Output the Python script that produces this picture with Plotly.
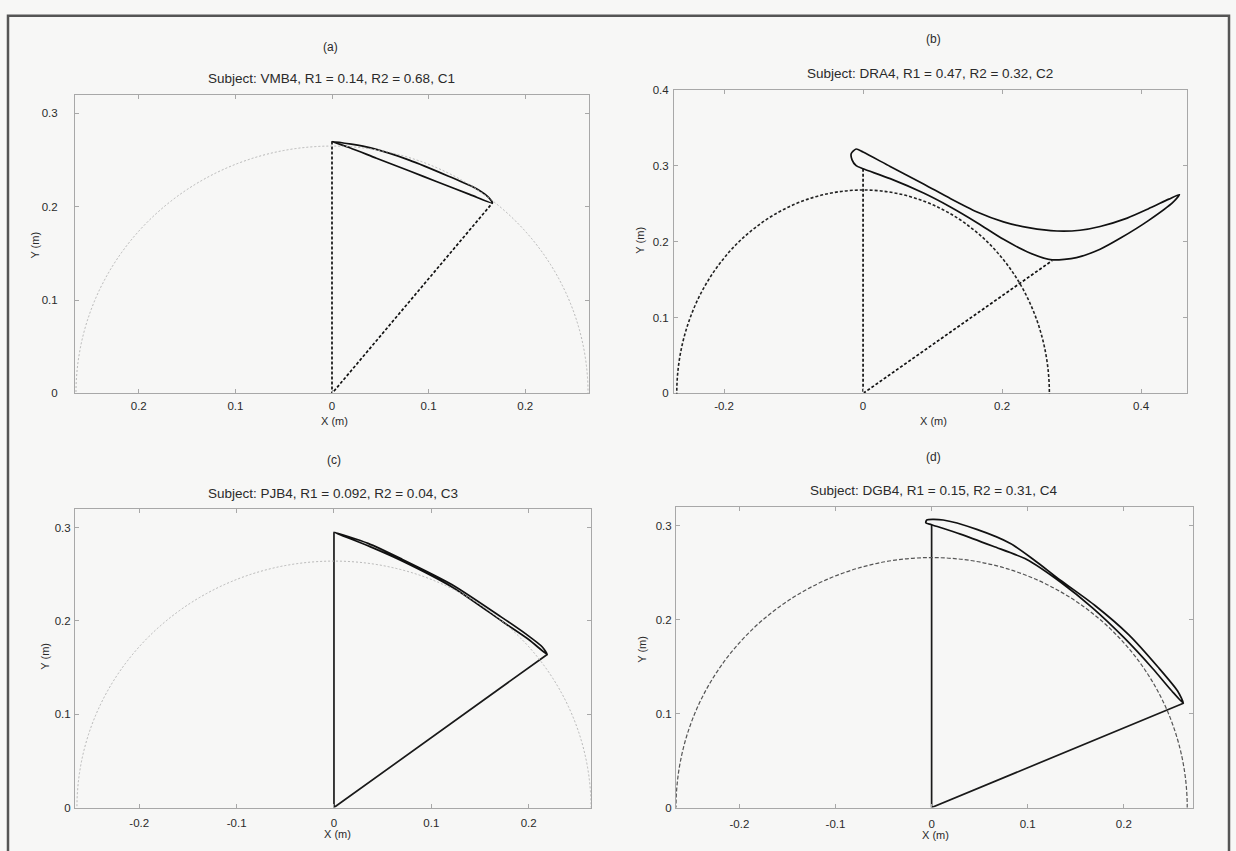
import plotly.graph_objects as go

W, H = 1236, 851

# ---- data -------------------------------------------------------------
# reach radius (m) per subject
radius = {"a": 0.265, "b": 0.268, "c": 0.264, "d": 0.266}

# arm vertices: shoulder top (on x = 0) and the far vertex of the triangle
shoulder_top = {"a": 0.270, "b": 0.296, "c": 0.295, "d": 0.301}
vertex_x = {"a": 0.166, "b": 0.272, "c": 0.219, "d": 0.262}
vertex_y = {"a": 0.204, "b": 0.175, "c": 0.164, "d": 0.111}

# trajectory loops
loop_a_x = [0.0, 0.020, 0.040, 0.080, 0.120, 0.150, 0.162, 0.166,
            0.143, 0.108, 0.081, 0.046, 0.019, 0.0]
loop_a_y = [0.270, 0.267, 0.263, 0.250, 0.233, 0.219, 0.210, 0.204,
            0.213, 0.227, 0.238, 0.252, 0.263, 0.270]

loop_b_x = [0.0, 0.039, 0.087, 0.125, 0.164, 0.202, 0.240, 0.272, 0.307,
            0.341, 0.371, 0.411, 0.446, 0.455, 0.440, 0.410, 0.380, 0.341,
            0.312, 0.279, 0.240, 0.202, 0.164, 0.125, 0.087, 0.039, 0.0,
            -0.010, -0.017, -0.016, -0.010, 0.0]
loop_b_y = [0.296, 0.283, 0.264, 0.246, 0.225, 0.203, 0.185, 0.176, 0.179,
            0.190, 0.205, 0.228, 0.252, 0.262, 0.256, 0.243, 0.231, 0.220,
            0.215, 0.214, 0.218, 0.226, 0.239, 0.257, 0.276, 0.299, 0.318,
            0.322, 0.316, 0.308, 0.300, 0.296]

loop_c_x = [0.0, 0.037, 0.071, 0.1225, 0.174, 0.200, 0.219,
            0.214, 0.197, 0.172, 0.121, 0.070, 0.035, 0.0]
loop_c_y = [0.295, 0.2795, 0.2637, 0.2355, 0.1985, 0.180, 0.164,
            0.172, 0.186, 0.204, 0.239, 0.266, 0.283, 0.295]

loop_d_x = [0.0, 0.030, 0.064, 0.099, 0.134, 0.168, 0.200, 0.230, 0.250,
            0.262, 0.256, 0.236, 0.205, 0.170, 0.134, 0.106, 0.082, 0.047,
            0.012, -0.005, -0.006, 0.0]
loop_d_y = [0.301, 0.291, 0.278, 0.264, 0.240, 0.212, 0.181, 0.148, 0.124,
            0.111, 0.124, 0.149, 0.184, 0.215, 0.242, 0.264, 0.281, 0.296,
            0.306, 0.306, 0.303, 0.301]

loops = {"a": (loop_a_x, loop_a_y), "b": (loop_b_x, loop_b_y),
         "c": (loop_c_x, loop_c_y), "d": (loop_d_x, loop_d_y)}

panel_tags = {"a": "(a)", "b": "(b)", "c": "(c)", "d": "(d)"}
titles = {
    "a": "Subject: VMB4, R1 = 0.14, R2 = 0.68, C1",
    "b": "Subject: DRA4, R1 = 0.47, R2 = 0.32, C2",
    "c": "Subject: PJB4, R1 = 0.092, R2 = 0.04, C3",
    "d": "Subject: DGB4, R1 = 0.15, R2 = 0.31, C4",
}

x_ticks = {
    "a": ([-0.2, -0.1, 0, 0.1, 0.2], ["0.2", "0.1", "0", "0.1", "0.2"]),
    "b": ([-0.2, 0, 0.2, 0.4], ["-0.2", "0", "0.2", "0.4"]),
    "c": ([-0.2, -0.1, 0, 0.1, 0.2], ["-0.2", "-0.1", "0", "0.1", "0.2"]),
    "d": ([-0.2, -0.1, 0, 0.1, 0.2], ["-0.2", "-0.1", "0", "0.1", "0.2"]),
}
y_ticks = {
    "a": ([0, 0.1, 0.2, 0.3], ["0", "0.1", "0.2", "0.3"]),
    "b": ([0, 0.1, 0.2, 0.3, 0.4], ["0", "0.1", "0.2", "0.3", "0.4"]),
    "c": ([0, 0.1, 0.2, 0.3], ["0", "0.1", "0.2", "0.3"]),
    "d": ([0, 0.1, 0.2, 0.3], ["0", "0.1", "0.2", "0.3"]),
}

# ---- layout (pixel boxes of each axes) --------------------------------
boxes = {  # left, right, top, bottom in px
    "a": (75, 589, 90, 393),
    "b": (674, 1187, 85, 393),
    "c": (75, 591, 510, 813),
    "d": (676, 1193, 508, 813),
}
x_ranges = {"a": [-0.266, 0.266], "b": [-0.272, 0.466],
            "c": [-0.266, 0.264], "d": [-0.266, 0.272]}
y_ranges = {"a": [0, 0.32], "b": [0, 0.4], "c": [0, 0.32], "d": [0, 0.32]}

# label standoffs (px) for x and y tick labels
standoff = {"a": (2, 14), "b": (2, 2), "c": (5, 1), "d": (6, 1)}

text_pos = {  # tag, title, x-label, y-label centres in px
    "a": ((330, 42), (331, 74), (334, 421), (35, 243)),
    "b": ((933, 33), (930, 68), (933, 421), (640, 238)),
    "c": ((334, 460), (333, 494), (337, 840), (45, 660)),
    "d": ((933, 457), (933, 491), (935, 841), (642, 653)),
}

styles = {
    "a": dict(tri=dict(color="#111", width=1.7, dash="3px,2px"),
              circ=dict(color="#b0b0b0", width=0.9, dash="2px,2px")),
    "b": dict(tri=dict(color="#111", width=1.7, dash="3px,2px"),
              circ=dict(color="#222", width=1.6, dash="3px,2px")),
    "c": dict(tri=dict(color="#1a1a1a", width=1.7, dash="solid"),
              circ=dict(color="#b0b0b0", width=0.9, dash="2px,2px")),
    "d": dict(tri=dict(color="#1a1a1a", width=1.7, dash="solid"),
              circ=dict(color="#555", width=1.2, dash="4px,2px")),
}

FONT = "Liberation Sans, Arial, sans-serif"


def px(x):
    return x / W


def py(y):
    return 1 - y / H


fig = go.Figure()
annotations = []
shapes = []

for i, key in enumerate(["a", "b", "c", "d"], start=1):
    xa = "x" if i == 1 else f"x{i}"
    ya = "y" if i == 1 else f"y{i}"
    l, r, t, b = boxes[key]

    # reach circle (upper half visible inside the axes)
    R = radius[key]
    shapes.append(dict(type="circle", xref=xa, yref=ya, x0=-R, y0=-R, x1=R, y1=R,
                       line=styles[key]["circ"], layer="above"))

    # arm segments
    fig.add_trace(go.Scatter(
        x=[0, 0, vertex_x[key]], y=[shoulder_top[key], 0, vertex_y[key]],
        mode="lines", line=styles[key]["tri"], xaxis=xa, yaxis=ya,
        showlegend=False, hoverinfo="skip"))

    # trajectory loop
    lx, ly = loops[key]
    fig.add_trace(go.Scatter(
        x=lx, y=ly, mode="lines",
        line=dict(color="#111", width=1.7, shape="spline", smoothing=0.7),
        xaxis=xa, yaxis=ya, showlegend=False, hoverinfo="skip"))

    axis_common = dict(showgrid=False, zeroline=False, showline=True,
                       linecolor="#a8a8a8", linewidth=1, mirror="ticks",
                       ticks="inside", ticklen=4, tickcolor="#a8a8a8",
                       tickfont=dict(family=FONT, size=11.5, color="#2a2a2a"),
                       fixedrange=True)
    sx, sy = standoff[key]
    fig.update_layout(**{
        ("xaxis" if i == 1 else f"xaxis{i}"): dict(
            domain=[px(l), px(r)], range=x_ranges[key], anchor=ya,
            tickvals=x_ticks[key][0], ticktext=x_ticks[key][1],
            ticklabelstandoff=sx, **axis_common),
        ("yaxis" if i == 1 else f"yaxis{i}"): dict(
            domain=[py(b), py(t)], range=y_ranges[key], anchor=xa,
            tickvals=y_ticks[key][0], ticktext=y_ticks[key][1],
            ticklabelstandoff=sy, **axis_common),
    })

    (tx, ty), (hx, hy), (xlx, xly), (ylx, yly) = text_pos[key]
    annotations += [
        dict(x=px(tx), y=py(ty), text=panel_tags[key], font=dict(size=12)),
        dict(x=px(hx), y=py(hy), text=titles[key], font=dict(size=13.5)),
        dict(x=px(xlx), y=py(xly), text="X (m)", font=dict(size=11)),
        dict(x=px(ylx), y=py(yly), text="Y (m)", font=dict(size=11), textangle=-90),
    ]

for a in annotations:
    a.update(xref="paper", yref="paper", showarrow=False,
             xanchor="center", yanchor="middle")
    a["font"].update(family=FONT, color="#2a2a2a")

# outer frame
shapes.append(dict(type="rect", xref="paper", yref="paper",
                   x0=px(8), x1=px(1229), y0=py(870), y1=py(10),
                   line=dict(color="#555", width=2.5), layer="above"))

fig.update_layout(
    width=W, height=H, margin=dict(l=0, r=0, t=0, b=0),
    paper_bgcolor="#f7f7f6", plot_bgcolor="#f7f7f6",
    annotations=annotations, shapes=shapes,
)

fig.write_html("out.html")
